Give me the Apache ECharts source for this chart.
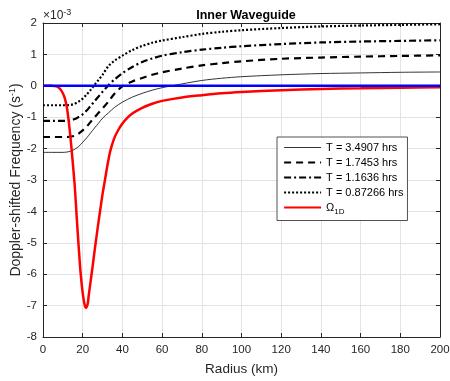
<!DOCTYPE html>
<html>
<head>
<meta charset="utf-8">
<script src="https://cdn.jsdelivr.net/npm/echarts@6/dist/echarts.min.js"></script>
<style>
  html, body { margin: 0; padding: 0; background: #fff; }
  #main { width: 450px; height: 381px; }
</style>
</head>
<body>
<div id="main"></div>
<script>
// radius (km) samples shared by the four black curves
const radius = [0, 5, 10, 12, 14, 16, 18, 20, 22, 24, 26, 28, 30, 33, 36, 40, 45, 50, 55, 60, 70, 80, 90, 100, 120, 140, 160, 180, 200]
// values in units of 1e-3 s^-1
const t34907 = [-2.12, -2.12, -2.12, -2.11, -2.08, -2.02, -1.93, -1.8, -1.66, -1.5, -1.34, -1.19, -1.03, -0.86, -0.69, -0.52, -0.36, -0.24, -0.14, -0.06, 0.06, 0.17, 0.24, 0.29, 0.35, 0.39, 0.41, 0.43, 0.44]
const t17453 = [-1.63, -1.63, -1.63, -1.63, -1.62, -1.59, -1.52, -1.42, -1.3, -1.15, -1.0, -0.86, -0.72, -0.5, -0.25, -0.02, 0.14, 0.25, 0.35, 0.43, 0.55, 0.65, 0.72, 0.78, 0.86, 0.9, 0.93, 0.95, 0.97]
const t11636 = [-1.12, -1.12, -1.12, -1.12, -1.1, -1.06, -0.99, -0.91, -0.79, -0.64, -0.49, -0.34, -0.19, 0.02, 0.2, 0.4, 0.6, 0.76, 0.87, 0.96, 1.07, 1.15, 1.21, 1.26, 1.33, 1.38, 1.41, 1.43, 1.45]
const t087266 = [-0.62, -0.62, -0.62, -0.62, -0.61, -0.57, -0.5, -0.41, -0.28, -0.13, 0.03, 0.19, 0.35, 0.63, 0.8, 0.96, 1.14, 1.27, 1.37, 1.44, 1.55, 1.65, 1.72, 1.77, 1.84, 1.89, 1.92, 1.94, 1.96]

// Omega_1D curve
const radius1D = [0, 4, 6, 8, 9, 10, 11, 12, 13, 14, 15, 16, 17, 18, 19, 20, 21, 21.7, 22.5, 23, 24, 25, 26, 27, 28, 29, 30, 31, 32, 33, 34, 36, 38, 40, 42, 45, 50, 55, 60, 70, 80, 90, 100, 120, 140, 160, 180, 200]
const omega1D = [0, 0, -0.01, -0.06, -0.13, -0.24, -0.4, -0.68, -1.15, -1.75, -2.45, -3.2, -4.2, -5.15, -6.0, -6.6, -6.98, -7.07, -6.95, -6.7, -6.22, -5.75, -5.25, -4.78, -4.32, -3.88, -3.45, -3.08, -2.7, -2.35, -2.05, -1.65, -1.4, -1.2, -1.05, -0.88, -0.7, -0.57, -0.48, -0.37, -0.3, -0.24, -0.2, -0.14, -0.1, -0.08, -0.06, -0.05]

const zeroLine = [[0, 0], [200, 0]]

const xTicks = { min: 0, max: 200, interval: 20 }
const yTicks = { min: -8, max: 2, interval: 1 }

const legendNames = ['T = 3.4907 hrs', 'T = 1.7453 hrs', 'T = 1.1636 hrs', 'T = 0.87266 hrs', 'omega']

const zip = (xs, ys) => xs.map((x, i) => [x, ys[i]])

const font = "'Liberation Sans', Arial, Helvetica, sans-serif"
const ink = '#262626'

const chart = echarts.init(document.getElementById('main'), null, { renderer: 'canvas' })

const styles = [
  { width: 0.8, type: 'solid' },
  { width: 2.2, type: [7, 5] },
  { width: 2.2, type: [7, 3, 2, 3] },
  { width: 2.2, type: [2, 2] }
]

const blackLine = (name, values, style) => ({
  name,
  type: 'line',
  data: zip(radius, values),
  smooth: 0.3,
  symbol: 'none',
  lineStyle: { color: '#000', width: style.width, type: style.type },
  z: 3
})

const option = {
  animation: false,
  backgroundColor: '#fff',
  textStyle: { fontFamily: font },
  title: {
    text: 'Inner Waveguide',
    left: 241,
    textAlign: 'center',
    top: 4,
    textStyle: { fontSize: 12.5, fontWeight: 'bold', color: '#000', fontFamily: font }
  },
  graphic: [
    {
      type: 'text',
      left: 43,
      top: 8,
      style: {
        text: '×10{s|-3}',
        fill: ink,
        font: '12px ' + font,
        rich: { s: { fontSize: 9, padding: [0, 0, 7, 0], fill: ink, fontFamily: font } }
      }
    }
  ],
  grid: { left: 43, right: 10, top: 23, bottom: 44, containLabel: false, outerBoundsMode: 'none' },
  legend: {
    data: legendNames.map((name, i) => i < 4
      ? { name, lineStyle: { color: '#000', width: styles[i].width, type: styles[i].type } }
      : { name }),
    orient: 'vertical',
    left: 277,
    top: 137,
    itemWidth: 37,
    itemHeight: 11,
    itemGap: 4,
    padding: [5, 4, 5, 6],
    backgroundColor: '#fff',
    borderColor: ink,
    borderWidth: 0.8,
    borderRadius: 0,
    itemStyle: { opacity: 0 },
    textStyle: {
      fontSize: 11,
      color: '#000',
      fontFamily: font,
      rich: {
        o: { fontSize: 11, color: '#000', fontFamily: font },
        s: { fontSize: 8, color: '#000', padding: [8, 0, 0, 0], fontFamily: font }
      }
    },
    formatter: (name) => name === 'omega' ? '{o|Ω}{s|1D}' : name
  },
  xAxis: [
    {
      type: 'value',
      min: xTicks.min,
      max: xTicks.max,
      interval: xTicks.interval,
      name: 'Radius (km)',
      nameLocation: 'middle',
      nameGap: 25,
      nameMoveOverlap: false,
      nameTextStyle: { fontSize: 13.5, color: ink, fontFamily: font },
      axisLine: { onZero: false, lineStyle: { color: ink, width: 1 } },
      axisTick: { inside: true, length: 4, lineStyle: { color: ink } },
      axisLabel: { fontSize: 11.5, color: ink, margin: 7, fontFamily: font },
      splitLine: { show: true, lineStyle: { color: '#e3e3e3', width: 1 } }
    },
    {
      type: 'value',
      position: 'top',
      min: xTicks.min,
      max: xTicks.max,
      interval: xTicks.interval,
      axisLine: { onZero: false, lineStyle: { color: ink, width: 1 } },
      axisTick: { inside: true, length: 4, lineStyle: { color: ink } },
      axisLabel: { show: false },
      splitLine: { show: false }
    }
  ],
  yAxis: [
    {
      type: 'value',
      min: yTicks.min,
      max: yTicks.max,
      interval: yTicks.interval,
      name: 'Doppler-shifted Frequency (s{sup|-1})',
      nameLocation: 'middle',
      nameGap: 18,
      nameMoveOverlap: false,
      nameTextStyle: {
        fontSize: 14,
        color: ink,
        fontFamily: font,
        rich: { sup: { fontSize: 9, color: ink, padding: [0, 0, 8, 0], fontFamily: font } }
      },
      axisLine: { show: true, onZero: false, lineStyle: { color: ink, width: 1 } },
      axisTick: { show: true, inside: true, length: 4, lineStyle: { color: ink } },
      axisLabel: { fontSize: 11.5, color: ink, margin: 6, fontFamily: font },
      splitLine: { show: true, lineStyle: { color: '#e3e3e3', width: 1 } }
    },
    {
      type: 'value',
      position: 'right',
      min: yTicks.min,
      max: yTicks.max,
      interval: yTicks.interval,
      axisLine: { show: true, onZero: false, lineStyle: { color: ink, width: 1 } },
      axisTick: { show: true, inside: true, length: 4, lineStyle: { color: ink } },
      axisLabel: { show: false },
      splitLine: { show: false }
    }
  ],
  series: [
    blackLine(legendNames[0], t34907, styles[0]),
    blackLine(legendNames[1], t17453, styles[1]),
    blackLine(legendNames[2], t11636, styles[2]),
    blackLine(legendNames[3], t087266, styles[3]),
    {
      name: 'omega',
      type: 'line',
      data: zip(radius1D, omega1D),
      smooth: 0.3,
      symbol: 'none',
      lineStyle: { color: '#ff0000', width: 2.5 },
      z: 4
    },
    {
      name: 'zero',
      type: 'line',
      data: zeroLine,
      symbol: 'none',
      lineStyle: { color: '#0000ff', width: 2.5 },
      z: 5
    }
  ]
}

chart.setOption(option)
</script>
</body>
</html>
